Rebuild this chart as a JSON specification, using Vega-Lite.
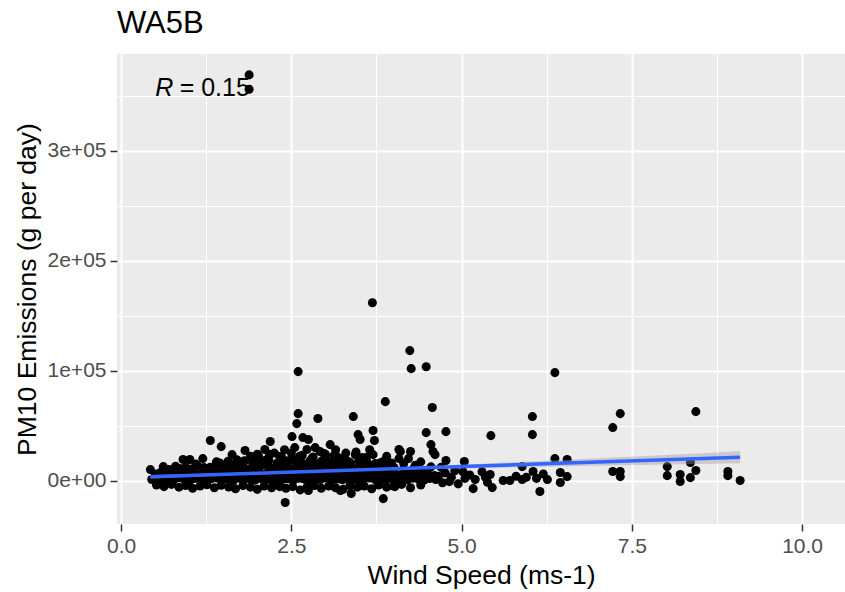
{
"$schema":"https://vega.github.io/schema/vega-lite/v6.json",
"width":728,"height":470,
"autosize":{"type":"none"},
"padding":{"left":117,"top":54,"right":0,"bottom":68},
"background":"#FFFFFF",
"title":{"text":"WA5B","anchor":"start","frame":"group","font":"Liberation Sans","fontSize":31,"fontWeight":"normal","color":"#000000","offset":14},
"datasets":{
"pts":[
{"x":1.88,"y":369000},{"x":1.88,"y":356000},{"x":3.69,"y":161800},{"x":4.24,"y":118200},{"x":4.26,"y":101800},{"x":4.48,"y":103600},{"x":2.6,"y":99100},{"x":3.88,"y":71800},{"x":4.57,"y":66400},{"x":6.37,"y":98200},{"x":7.33,"y":60900},{"x":7.22,"y":48200},{"x":8.44,"y":62700},{"x":6.04,"y":58200},{"x":6.04,"y":41800},{"x":5.43,"y":40900},{"x":4.77,"y":44500},{"x":4.48,"y":43600},{"x":4.55,"y":32700},{"x":4.61,"y":23600},{"x":4.77,"y":18200},{"x":5.04,"y":17300},{"x":5.17,"y":-7300},{"x":5.42,"y":5500},{"x":5.45,"y":-6400},{"x":5.61,"y":0},{"x":5.71,"y":0},{"x":5.89,"y":12700},{"x":5.89,"y":900},{"x":6.05,"y":8200},{"x":6.15,"y":-10000},{"x":6.26,"y":900},{"x":6.37,"y":20000},{"x":6.45,"y":7300},{"x":6.55,"y":19100},{"x":6.45,"y":-1800},{"x":6.55,"y":3600},{"x":7.22,"y":8200},{"x":7.33,"y":8200},{"x":7.33,"y":3600},{"x":8.02,"y":12700},{"x":8.02,"y":4500},{"x":8.21,"y":5500},{"x":8.21,"y":-900},{"x":8.36,"y":16400},{"x":8.36,"y":2700},{"x":8.44,"y":9100},{"x":8.91,"y":8200},{"x":8.91,"y":4500},{"x":9.09,"y":0},
{"x":5.02,"y":8000},{"x":5.05,"y":2000},{"x":5.12,"y":5000},{"x":5.2,"y":1000},{"x":5.3,"y":8000},{"x":5.35,"y":3000},{"x":5.38,"y":-1500},{"x":5.8,"y":4000},{"x":5.95,"y":3000},{"x":6.1,"y":2000},{"x":6.2,"y":6000},
{"x":4.7,"y":12000},{"x":4.66,"y":4000},{"x":4.72,"y":-2000},{"x":4.85,"y":3000},{"x":4.9,"y":9000},{"x":4.95,"y":-3000},
{"x":0.43,"y":10000},{"x":0.62,"y":12700},{"x":0.91,"y":19100},{"x":1.01,"y":19100},{"x":1.2,"y":20000},{"x":1.31,"y":36400},{"x":1.47,"y":30900},{"x":1.63,"y":23600},{"x":1.82,"y":27300},{"x":1.56,"y":14500},{"x":1.79,"y":16400},{"x":1.97,"y":20900},{"x":2.19,"y":35500},{"x":2.11,"y":28200},{"x":2.14,"y":19100},{"x":2.33,"y":21800},{"x":2.51,"y":40000},{"x":2.58,"y":51800},{"x":2.6,"y":60900},{"x":2.67,"y":39100},{"x":2.75,"y":37300},{"x":2.89,"y":56400},{"x":2.73,"y":28200},{"x":2.92,"y":26400},{"x":3.07,"y":32700},{"x":3.17,"y":21800},{"x":3.41,"y":58200},{"x":3.48,"y":41800},{"x":3.51,"y":37300},{"x":3.54,"y":20900},{"x":3.7,"y":45500},{"x":3.72,"y":36400},{"x":3.7,"y":23600},{"x":4.1,"y":26400},{"x":4.25,"y":26400},{"x":4.58,"y":26400},{"x":4.08,"y":28200},{"x":4.08,"y":20000},{"x":4.22,"y":20000},
{"x":2.41,"y":-20000},{"x":2.33,"y":-5500},{"x":2.75,"y":-9100},{"x":3.22,"y":-9100},{"x":3.38,"y":-11800},{"x":3.85,"y":-16400},{"x":4.02,"y":-5500},{"x":3.78,"y":-3600},
{"x":2.25,"y":25000},{"x":2.4,"y":28000},{"x":2.45,"y":18000},{"x":2.55,"y":30000},{"x":2.62,"y":22000},{"x":2.8,"y":20000},{"x":2.85,"y":30000},{"x":2.95,"y":18000},{"x":3.0,"y":24000},{"x":3.1,"y":16000},{"x":3.15,"y":28000},{"x":3.25,"y":20000},{"x":3.3,"y":25000},{"x":3.35,"y":17000},{"x":3.45,"y":26000},{"x":3.6,"y":18000},{"x":3.65,"y":28000},{"x":3.8,"y":16000},{"x":3.9,"y":22000},{"x":1.7,"y":19000},{"x":1.9,"y":22000},{"x":2.0,"y":24000},{"x":1.4,"y":17000},{"x":1.1,"y":15000},{"x":0.8,"y":13000},{"x":0.7,"y":10000},
{"x":0.52,"y":-4000},{"x":0.63,"y":-5500},{"x":0.74,"y":-3500},{"x":0.85,"y":-6000},{"x":0.95,"y":-4500},{"x":1.05,"y":-7000},{"x":1.16,"y":-5000},{"x":1.26,"y":-3800},{"x":1.37,"y":-6500},{"x":1.47,"y":-4200},{"x":1.58,"y":-5800},{"x":1.68,"y":-7500},{"x":1.79,"y":-4500},{"x":1.9,"y":-6000},{"x":2.0,"y":-8000},{"x":2.1,"y":-5000},{"x":2.21,"y":-6500},{"x":2.31,"y":-4000},{"x":2.42,"y":-7000},{"x":2.52,"y":-5500},{"x":2.63,"y":-8500},{"x":2.73,"y":-6000},{"x":2.84,"y":-4500},{"x":2.94,"y":-7000},{"x":3.05,"y":-5000},{"x":3.15,"y":-6500},{"x":3.26,"y":-8000},{"x":3.36,"y":-4500},{"x":3.47,"y":-6000},{"x":3.57,"y":-5000},{"x":3.68,"y":-7500},{"x":3.78,"y":-4000},{"x":3.9,"y":-6000},{"x":4.0,"y":-5000},{"x":4.12,"y":-3500},{"x":4.25,"y":-6500},{"x":4.4,"y":-4000},
{"x":0.45,"y":1000},{"x":0.53,"y":2000},{"x":0.61,"y":0},{"x":0.69,"y":1500},{"x":0.77,"y":500},{"x":0.85,"y":2500},{"x":0.93,"y":1000},{"x":1.01,"y":0},{"x":1.09,"y":2000},{"x":1.17,"y":1200},{"x":1.25,"y":300},{"x":1.33,"y":1800},{"x":1.41,"y":2400},{"x":1.49,"y":800},{"x":1.57,"y":1500},{"x":1.65,"y":0},{"x":1.73,"y":2200},{"x":1.81,"y":1000},{"x":1.89,"y":1600},{"x":1.97,"y":400},{"x":2.05,"y":2000},{"x":2.13,"y":1200},{"x":2.21,"y":0},{"x":2.29,"y":2500},{"x":2.37,"y":900},{"x":2.45,"y":1700},{"x":2.53,"y":300},{"x":2.61,"y":2100},{"x":2.69,"y":1300},{"x":2.77,"y":600},{"x":2.85,"y":1900},{"x":2.93,"y":1000},{"x":3.01,"y":2400},{"x":3.09,"y":200},{"x":3.17,"y":1500},{"x":3.25,"y":800},{"x":3.33,"y":2000},{"x":3.41,"y":1100},{"x":3.49,"y":0},{"x":3.57,"y":1700},{"x":3.65,"y":2300},{"x":3.73,"y":900},{"x":3.81,"y":1400},{"x":3.89,"y":300},{"x":3.97,"y":2000},{"x":4.05,"y":1000},{"x":4.13,"y":1600},{"x":4.21,"y":600},{"x":4.29,"y":2200},{"x":4.37,"y":1200},{"x":4.45,"y":400},{"x":4.53,"y":1800},{"x":4.62,"y":900},
{"x":0.5,"y":6000},{"x":0.58,"y":7500},{"x":0.66,"y":5000},{"x":0.74,"y":6800},{"x":0.82,"y":5500},{"x":0.9,"y":8000},{"x":0.98,"y":6200},{"x":1.06,"y":7000},{"x":1.14,"y":5200},{"x":1.22,"y":7600},{"x":1.3,"y":6400},{"x":1.38,"y":5800},{"x":1.46,"y":8200},{"x":1.54,"y":6000},{"x":1.62,"y":7200},{"x":1.7,"y":5400},{"x":1.78,"y":6600},{"x":1.86,"y":7800},{"x":1.94,"y":6000},{"x":2.02,"y":7000},{"x":2.1,"y":5600},{"x":2.18,"y":8000},{"x":2.26,"y":6500},{"x":2.34,"y":7200},{"x":2.42,"y":5300},{"x":2.5,"y":6900},{"x":2.58,"y":7700},{"x":2.66,"y":6100},{"x":2.74,"y":7400},{"x":2.82,"y":5500},{"x":2.9,"y":8100},{"x":2.98,"y":6300},{"x":3.06,"y":7000},{"x":3.14,"y":5800},{"x":3.22,"y":7600},{"x":3.3,"y":6200},{"x":3.38,"y":6800},{"x":3.46,"y":5400},{"x":3.54,"y":7300},{"x":3.62,"y":6000},{"x":3.7,"y":7900},{"x":3.78,"y":6400},{"x":3.86,"y":5700},{"x":3.94,"y":7100},{"x":4.02,"y":6200},{"x":4.1,"y":5300},{"x":4.18,"y":6800},{"x":4.26,"y":7500},{"x":4.34,"y":5900},{"x":4.42,"y":6600},{"x":4.5,"y":7000},
{"x":0.86,"y":11000},{"x":0.95,"y":12500},{"x":1.04,"y":10500},{"x":1.13,"y":13000},{"x":1.22,"y":11800},{"x":1.31,"y":12200},{"x":1.4,"y":10800},{"x":1.49,"y":13500},{"x":1.58,"y":12000},{"x":1.67,"y":11400},{"x":1.76,"y":13200},{"x":1.85,"y":10600},{"x":1.94,"y":12700},{"x":2.03,"y":11900},{"x":2.12,"y":13800},{"x":2.21,"y":11200},{"x":2.3,"y":12400},{"x":2.39,"y":13000},{"x":2.48,"y":10900},{"x":2.57,"y":12800},{"x":2.66,"y":11500},{"x":2.75,"y":14000},{"x":2.84,"y":12100},{"x":2.93,"y":11000},{"x":3.02,"y":13400},{"x":3.11,"y":12600},{"x":3.2,"y":11300},{"x":3.29,"y":13700},{"x":3.38,"y":12000},{"x":3.47,"y":11100},{"x":3.56,"y":12900},{"x":3.65,"y":11600},{"x":3.74,"y":13100},{"x":3.83,"y":10700},{"x":3.92,"y":12300},{"x":4.01,"y":11800},{"x":4.15,"y":10500},{"x":4.3,"y":11200},
{"x":1.45,"y":16000},{"x":1.57,"y":17500},{"x":1.69,"y":15500},{"x":1.81,"y":18000},{"x":1.93,"y":16500},{"x":2.05,"y":17000},{"x":2.17,"y":18500},{"x":2.29,"y":15800},{"x":2.41,"y":17200},{"x":2.53,"y":18800},{"x":2.65,"y":16300},{"x":2.77,"y":17700},{"x":2.89,"y":15600},{"x":3.01,"y":18300},{"x":3.13,"y":16800},{"x":3.25,"y":17400},{"x":3.37,"y":15900},{"x":3.49,"y":18100},{"x":3.61,"y":16600},{"x":3.73,"y":15400},{"x":3.85,"y":17300},{"x":3.97,"y":16000},
{"x":2.02,"y":22000},{"x":2.18,"y":24000},{"x":2.36,"y":21000},{"x":2.5,"y":25000},{"x":2.66,"y":23000},{"x":2.82,"y":21500},{"x":2.98,"y":24500},{"x":3.12,"y":22500},{"x":3.28,"y":20500},{"x":3.44,"y":23500},{"x":3.6,"y":21000},
{"x":4.32,"y":14000},{"x":4.42,"y":9000},{"x":4.55,"y":12500},{"x":4.6,"y":4500},{"x":4.76,"y":7000},{"x":4.82,"y":-1000},{"x":4.4,"y":17000},{"x":4.15,"y":15500}
],
"fit":[
{"x":0.43,"fit":3400,"lo":1600,"hi":5200},
{"x":2,"fit":6626,"lo":5826,"hi":7426},
{"x":3,"fit":8681,"lo":7981,"hi":9381},
{"x":4,"fit":10736,"lo":9736,"hi":11736},
{"x":5,"fit":12791,"lo":11091,"hi":14491},
{"x":6,"fit":14846,"lo":12246,"hi":17446},
{"x":7,"fit":16901,"lo":13401,"hi":20401},
{"x":8,"fit":18956,"lo":14556,"hi":23356},
{"x":9.09,"fit":21196,"lo":15796,"hi":26596}
]
},
"layer":[
{"data":{"name":"pts"},
"mark":{"type":"circle","size":82,"opacity":1,"color":"#000000"},
"encoding":{
"x":{"field":"x","type":"quantitative","title":"Wind Speed (ms-1)","scale":{"domain":[-0.06,10.63],"nice":false,"zero":false},
 "axis":{"values":[0,1.25,2.5,3.75,5,6.25,7.5,8.75,10],"labelExpr":"datum.value % 2.5 === 0 ? format(datum.value, '.1f') : ''",
 "gridWidth":{"condition":{"test":"datum.value % 2.5 !== 0","value":1},"value":2},
 "tickOpacity":{"condition":{"test":"datum.value % 2.5 !== 0","value":0},"value":1}}},
"y":{"field":"y","type":"quantitative","title":"PM10 Emissions (g per day)","scale":{"domain":[-39500,388000],"nice":false,"zero":false},
 "axis":{"values":[0,50000,100000,150000,200000,250000,300000,350000],"labelExpr":"datum.value % 100000 === 0 ? (datum.value === 0 ? '0e+00' : (datum.value/100000) + 'e+05') : ''",
 "gridWidth":{"condition":{"test":"datum.value % 100000 !== 0","value":1},"value":2},
 "tickOpacity":{"condition":{"test":"datum.value % 100000 !== 0","value":0},"value":1}}}
}},
{"data":{"name":"fit"},
"mark":{"type":"area","color":"#999999","opacity":0.4},
"encoding":{"x":{"field":"x","type":"quantitative","title":"Wind Speed (ms-1)"},"y":{"field":"lo","type":"quantitative","title":"PM10 Emissions (g per day)"},"y2":{"field":"hi"}}},
{"data":{"name":"fit"},
"mark":{"type":"line","color":"#3366FF","strokeWidth":3.5},
"encoding":{"x":{"field":"x","type":"quantitative","title":"Wind Speed (ms-1)"},"y":{"field":"fit","type":"quantitative","title":"PM10 Emissions (g per day)"}}},
{"data":{"values":[{"x":0.5,"y":349400,"t":"R"}]},
"mark":{"type":"text","font":"Liberation Sans","fontSize":25,"fontStyle":"italic","align":"left","baseline":"alphabetic","color":"#000000"},
"encoding":{"x":{"field":"x","type":"quantitative","title":"Wind Speed (ms-1)"},"y":{"field":"y","type":"quantitative","title":"PM10 Emissions (g per day)"},"text":{"field":"t"}}},
{"data":{"values":[{"x":0.86,"y":349400,"t":"= 0.15"}]},
"mark":{"type":"text","font":"Liberation Sans","fontSize":25,"align":"left","baseline":"alphabetic","color":"#000000"},
"encoding":{"x":{"field":"x","type":"quantitative","title":"Wind Speed (ms-1)"},"y":{"field":"y","type":"quantitative","title":"PM10 Emissions (g per day)"},"text":{"field":"t"}}}
],
"config":{
"font":"Liberation Sans",
"view":{"fill":"#EBEBEB","stroke":null},
"axis":{"domain":false,"grid":true,"gridColor":"#FFFFFF","tickColor":"#333333","tickSize":7,"tickWidth":1.5,
"labelColor":"#4D4D4D","labelFont":"Liberation Sans","labelFontSize":21,"labelPadding":4,"labelOverlap":false,
"titleFont":"Liberation Sans","titleFontSize":26.5,"titleFontWeight":"normal","titleColor":"#000000","titlePadding":6}
}
}
